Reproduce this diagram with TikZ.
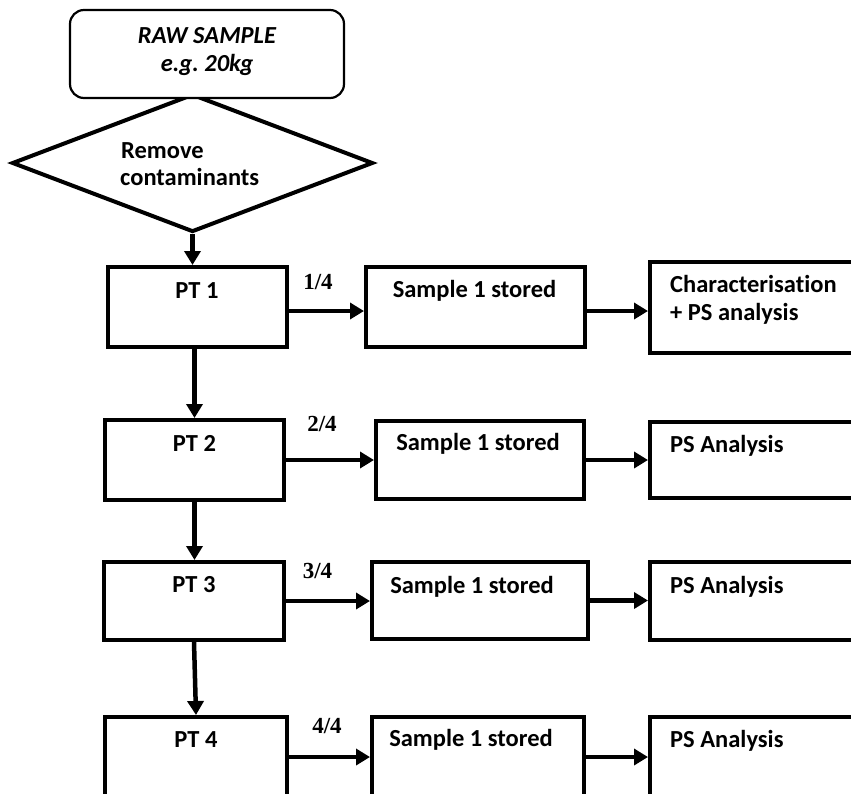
\documentclass[tikz,border=0pt]{standalone}
\usepackage{fontspec}
\setmainfont{Carlito}[Ligatures=NoCommon]
\newfontfamily\labelfont{Liberation Serif}
\usetikzlibrary{shapes.geometric,arrows.meta}
\frenchspacing

\tikzset{
  stepbox/.style={draw, line width=4pt, rectangle, inner sep=0pt},
  startbox/.style={draw, line width=2.2pt, rectangle, rounded corners=14pt, fill=white, inner sep=0pt},
  decision/.style={draw, line width=4pt, diamond, inner sep=0pt},
  txt/.style={inner sep=0pt, font=\fontsize{24.5}{29}\selectfont\bfseries},
  itxt/.style={txt, font=\fontsize{24.5}{29}\selectfont\bfseries\itshape},
  frac/.style={inner sep=0pt, font=\fontsize{23}{27}\selectfont\labelfont\bfseries},
  arr/.style={line width=4.5pt, -{Triangle[length=14pt,width=16pt]}},
}

\begin{document}
\begin{tikzpicture}[x=1pt, y=-1pt]
\useasboundingbox (0,0) rectangle (851,793);
\clip (0,0) rectangle (851,793);

% decision and start
\node[decision, minimum width=361pt, minimum height=138pt] (dia) at (192.5,163) {};
\node[startbox, minimum width=274pt, minimum height=88pt] (raw) at (207,54) {};
\node[itxt, anchor=base] (rawa) at (207,43) {RAW SAMPLE};
\node[itxt, anchor=base] (rawb) at (207,71) {e.g.\ 20kg};
\node[txt, anchor=base west] (rema) at (121,158) {Remove};
\node[txt, anchor=base west] (remb) at (120,185) {contaminants};

% row 1
\node[stepbox, minimum width=179pt, minimum height=80pt] (pt1) at (197.5,307) {};
\node[stepbox, minimum width=219pt, minimum height=80pt] (s1) at (475.5,307) {};
\node[stepbox, minimum width=220pt, minimum height=91pt] (c1) at (760,307.5) {};
\node[txt, anchor=base] (pt1t) at (197,298) {PT 1};
\node[txt, anchor=base] (s1t) at (474.5,297) {Sample 1 stored};
\node[txt, anchor=base west] (c1a) at (670,292) {Characterisation};
\node[txt, anchor=base west] (c1b) at (670,320) {+ PS analysis};
\node[frac, anchor=base] (f1) at (318,289) {1/4};

% row 2
\node[stepbox, minimum width=179pt, minimum height=80pt] (pt2) at (194.5,460) {};
\node[stepbox, minimum width=208pt, minimum height=78pt] (s2) at (480,460) {};
\node[stepbox, minimum width=220pt, minimum height=76pt] (c2) at (760,460) {};
\node[txt, anchor=base] (pt2t) at (194.5,451) {PT 2};
\node[txt, anchor=base] (s2t) at (478,450) {Sample 1 stored};
\node[txt, anchor=base west] (c2t) at (670,452) {PS Analysis};
\node[frac, anchor=base] (f2) at (322,431) {2/4};

% row 3
\node[stepbox, minimum width=180pt, minimum height=78pt] (pt3) at (194,601) {};
\node[stepbox, minimum width=216pt, minimum height=77pt] (s3) at (480,600.5) {};
\node[stepbox, minimum width=220pt, minimum height=78pt] (c3) at (760,601) {};
\node[txt, anchor=base] (pt3t) at (194,592) {PT 3};
\node[txt, anchor=base] (s3t) at (472,593) {Sample 1 stored};
\node[txt, anchor=base west] (c3t) at (670,593) {PS Analysis};
\node[frac, anchor=base] (f3) at (317.5,578) {3/4};

% row 4
\node[stepbox, minimum width=182pt, minimum height=80pt] (pt4) at (196,757) {};
\node[stepbox, minimum width=212pt, minimum height=80pt] (s4) at (478,757) {};
\node[stepbox, minimum width=220pt, minimum height=80pt] (c4) at (760,757) {};
\node[txt, anchor=base] (pt4t) at (196,747) {PT 4};
\node[txt, anchor=base] (s4t) at (471,746) {Sample 1 stored};
\node[txt, anchor=base west] (c4t) at (670,747) {PS Analysis};
\node[frac, anchor=base] (f4) at (327,733) {4/4};

% vertical flow
\draw[arr] (dia.south) -- (dia.south |- pt1.north);
\draw[arr] (pt1.south -| pt2.north) -- (pt2.north);
\draw[arr] (pt2.south) -- (pt2.south |- pt3.north);
\draw[arr] (pt3.south) -- (pt4.north);

% horizontal flow
\draw[arr] ([yshift=-4pt]pt1.east) -- ([yshift=-4pt]pt1.east -| s1.west);
\draw[arr] ([yshift=-4pt]s1.east) -- ([yshift=-4pt]s1.east -| c1.west);
\draw[arr] (pt2.east) -- (pt2.east -| s2.west);
\draw[arr] (s2.east) -- (s2.east -| c2.west);
\draw[arr] (pt3.east) -- (pt3.east -| s3.west);
\draw[arr] (s3.east) -- (s3.east -| c3.west);
\draw[arr] (pt4.east) -- (pt4.east -| s4.west);
\draw[arr] (s4.east) -- (s4.east -| c4.west);
\end{tikzpicture}
\end{document}
